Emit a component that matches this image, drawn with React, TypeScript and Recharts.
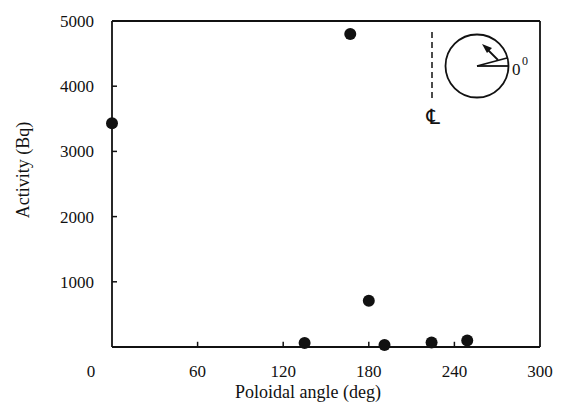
import React from 'react'
import { ScatterChart, Scatter, XAxis, YAxis, ReferenceLine } from 'recharts'

const angles = [0, 135, 167, 180, 191, 224, 249]
const activity = [3430, 60, 4800, 710, 30, 70, 100]
const xTicks = [0, 60, 120, 180, 240, 300]
const yTicks = [1000, 2000, 3000, 4000, 5000]

const points = angles.map((a, i) => ({ angle: a, activity: activity[i] }))

const FONT = '"Liberation Serif", "DejaVu Serif", serif'
const INK = '#111'

function XTick(props: any) {
  const { x, y, payload } = props
  const v = payload.value
  // origin label sits at the corner, left of the axis
  const tx = v === 0 ? x - 21 : x
  return (
    <text x={tx} y={y + 30} textAnchor="middle" fontFamily={FONT} fontSize={17} fill={INK}>{v}</text>
  )
}

function YTick(props: any) {
  const { x, y, payload } = props
  return (
    <text x={x - 18} y={y + 6} textAnchor="end" fontFamily={FONT} fontSize={17} fill={INK}>{payload.value}</text>
  )
}

function Inset() {
  return (
    <svg width={568} height={415} style={{ position: 'absolute', left: 0, top: 0, pointerEvents: 'none' }}>
      <line x1={432} y1={32} x2={432} y2={100} stroke={INK} strokeWidth={1.5} strokeDasharray="6 4" />
      <text x={433} y={124} textAnchor="middle" fontFamily='"DejaVu Serif", "DejaVu Sans", serif' fontSize={21} fill={INK}>℄</text>
      <circle cx={477} cy={66} r={31.5} fill="none" stroke={INK} strokeWidth={1.8} />
      <line x1={477} y1={66} x2={508.5} y2={66} stroke={INK} strokeWidth={1.8} />
      <line x1={477} y1={66} x2={507} y2={58} stroke={INK} strokeWidth={1.8} />
      <line x1={498} y1={60} x2={487} y2={49} stroke={INK} strokeWidth={1.8} />
      <polygon points="482,44 492,48 487,53" fill={INK} />
      <text x={512} y={75} fontFamily={FONT} fontSize={17} fill={INK}>0</text>
      <text x={522} y={65} fontFamily={FONT} fontSize={12} fill={INK}>0</text>
    </svg>
  )
}

export default function App() {
  return (
    <div style={{ position: 'absolute', left: 0, top: 0, width: 568, height: 415, background: '#fff' }}>
      <ScatterChart width={568} height={415} margin={{ top: 21, right: 28, left: 0, bottom: 0 }}>
        <XAxis
          type="number"
          dataKey="angle"
          domain={[0, 300]}
          ticks={xTicks}
          tick={<XTick />}
          tickLine={false}
          tickSize={0}
          tickMargin={0}
          height={68}
          axisLine={{ stroke: INK, strokeWidth: 1.8 }}
          label={{
            content: () => (
              <text x={308} y={398} textAnchor="middle" fontFamily={FONT} fontSize={18} fill={INK}>Poloidal angle (deg)</text>
            ),
          }}
        />
        <YAxis
          type="number"
          dataKey="activity"
          domain={[0, 5000]}
          ticks={yTicks}
          tick={<YTick />}
          tickLine={false}
          tickSize={0}
          tickMargin={0}
          width={112}
          axisLine={{ stroke: INK, strokeWidth: 1.8 }}
          label={{
            content: () => (
              <text x={29} y={170} transform="rotate(-90 29 170)" textAnchor="middle" fontFamily={FONT} fontSize={18} fill={INK}>Activity (Bq)</text>
            ),
          }}
        />
        {/* frame: top and right edges */}
        <ReferenceLine y={5000} stroke={INK} strokeWidth={1.8} />
        <ReferenceLine x={300} stroke={INK} strokeWidth={1.8} />
        {/* inward tick marks */}
        {xTicks.filter(v => v > 0 && v < 300).map(v => (
          <ReferenceLine key={'xt' + v} segment={[{ x: v, y: 0 }, { x: v, y: 80 }]} stroke={INK} strokeWidth={1.5} />
        ))}
        {yTicks.filter(v => v < 5000).map(v => (
          <ReferenceLine key={'yt' + v} segment={[{ x: 0, y: v }, { x: 3.5, y: v }]} stroke={INK} strokeWidth={1.5} />
        ))}
        <Scatter data={points} fill={INK} isAnimationActive={false}
          shape={(p: any) => <circle cx={p.cx} cy={p.cy} r={6} fill={INK} />} />
      </ScatterChart>
      <Inset />
    </div>
  )
}
